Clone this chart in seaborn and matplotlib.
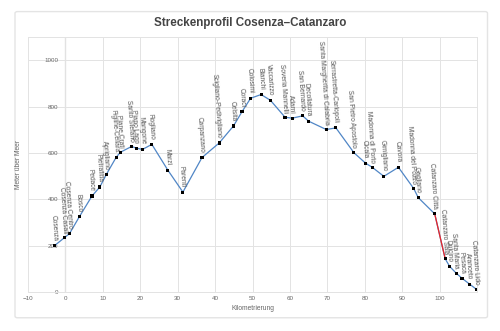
import matplotlib
matplotlib.use("Agg")
import matplotlib.pyplot as plt
from matplotlib.patches import FancyBboxPatch
import seaborn as sns
import pandas as pd

stations = ["Cosenza", "Cosenza Casali", "Cosenza Centro", "Bosco", "Pedace", "Pietrafitta",
            "Aprigliano", "Figline-Cellara", "Piane Crati", "Santo Stefano", "Piano Lago",
            "Mangone", "Rogliano", "Marzi", "Parenti", "Carpanzano", "Scigliano-Pedivigliano",
            "Celsita", "Coraci", "Colosimi", "Bianchi", "Vaccarizzo", "Soveria Mannelli",
            "Adami", "San Bernardo", "Decollatura", "Santa Margherita di Calabria",
            "Serrastretta-Carlopoli", "San Pietro Apostolo", "Cicala", "Madonna di Porto",
            "Gimigliano", "Cavora", "Madonna del Pozzo", "Gagliano", "Catanzaro Città",
            "Catanzaro Sala", "Dulcino", "Santa Maria", "Pesaca", "Aranceto", "Catanzaro Lido"]
km = [-2.9, -0.2, 1.1, 3.7, 7.1, 9.2,
      10.9, 13.6, 14.7, 17.7, 18.9,
      20.6, 23.1, 27.4, 31.4, 36.5, 41.1,
      44.9, 47.2, 49.5, 52.3, 54.8, 58.7,
      60.6, 63.4, 65.0, 69.7,
      72.3, 77.1, 80.2, 82.0,
      85.1, 89.0, 93.1, 94.3, 98.7,
      101.5, 102.7, 104.5, 106.0, 108.0, 109.8]
elev = [200, 235, 252, 324, 414, 453,
        506, 582, 603, 628, 621,
        615, 637, 525, 431, 580, 643,
        716, 778, 836, 852, 827, 754,
        750, 760, 737, 701,
        708, 601, 556, 538,
        499, 538, 446, 407, 337,
        143, 110, 80, 59, 34, 12]
rack_from = "Catanzaro Città"
rack_to = "Catanzaro Sala"

df = pd.DataFrame({"km": km, "elev": elev, "station": stations})
i0 = stations.index(rack_from)
i1 = stations.index(rack_to)

sns.set_style("white")
plt.rcParams["font.family"] = ["Liberation Sans", "DejaVu Sans"]

fig = plt.figure(figsize=(5, 3.31), dpi=100)
fig.patch.set_facecolor("white")
card = FancyBboxPatch((0.03, 0.04), 0.945, 0.925, boxstyle="round,pad=0,rounding_size=0.005",
                      transform=fig.transFigure, facecolor="white", edgecolor="#e4e4e4",
                      linewidth=1.0, zorder=-10)
fig.patches.append(card)

ax = fig.add_axes([0.056, 0.118, 0.898, 0.77])
ax.set_facecolor("none")

sns.lineplot(data=df, x="km", y="elev", ax=ax, color="#5086c6", linewidth=0.9,
             sort=False, estimator=None, zorder=3)
sns.lineplot(data=df.iloc[i0:i1 + 1], x="km", y="elev", ax=ax, color="#e8262a",
             linewidth=0.9, sort=False, estimator=None, zorder=4)
sns.scatterplot(data=df, x="km", y="elev", ax=ax, marker="s", s=5, color="black",
                edgecolor="none", zorder=5)

for x, y, name in zip(km, elev, stations):
    ax.annotate(name, (x, y), xytext=(0, 3.5), textcoords="offset points",
                rotation=-86, rotation_mode="anchor", ha="right", va="center",
                fontsize=4.8, color="#555555", zorder=6)

ax.set_xlim(-10, 110)
ax.set_ylim(0, 1100)
ax.set_xticks(range(-10, 101, 10))
ax.set_yticks(range(0, 1001, 200))
ax.grid(True, color="#e3e3e3", linewidth=0.7)
ax.axvline(0, color="#d0d0d0", linewidth=0.9, zorder=0)
for s in ["left", "bottom", "right", "top"]:
    ax.spines[s].set_color("#e3e3e3")
    ax.spines[s].set_linewidth(0.7)
ax.tick_params(axis="both", labelsize=4.5, colors="#666666", length=0)
ax.tick_params(axis="x", pad=3)
ax.tick_params(axis="y", pad=-22)
ax.set_xlabel("Kilometrierung", fontsize=4.8, color="#666666", labelpad=3)
ax.set_ylabel("Meter über Meer", fontsize=4.8, color="#666666")
ax.yaxis.set_label_coords(-0.013, 0.5)

fig.text(0.5, 0.93, "Streckenprofil Cosenza–Catanzaro", ha="center", va="center",
         fontsize=8.4, fontweight="bold", color="#444444")

fig.savefig("out.png", dpi=100, facecolor="white")
